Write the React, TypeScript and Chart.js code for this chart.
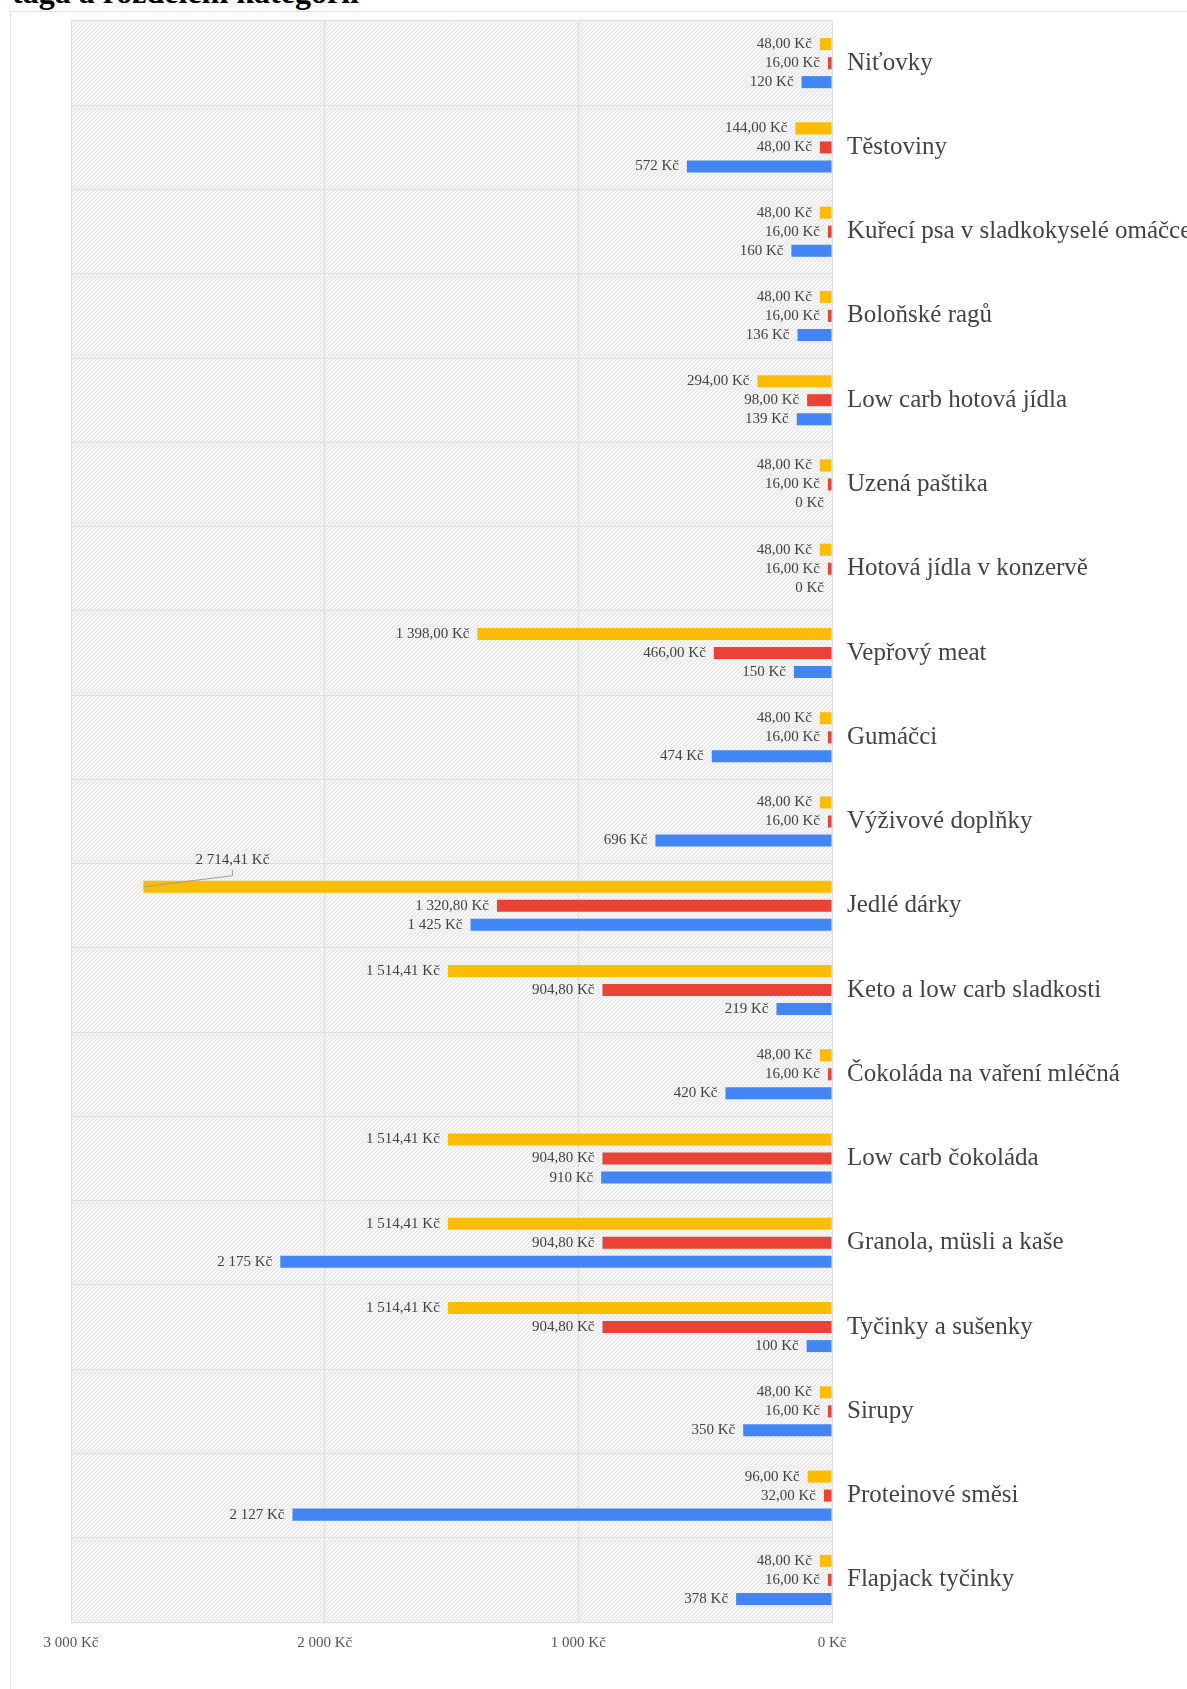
import React, { useEffect, useRef } from 'react';
import { Chart, registerables } from 'chart.js';

Chart.register(...registerables);

const categories = [
  'Niťovky',
  'Těstoviny',
  'Kuřecí psa v sladkokyselé omáčce',
  'Boloňské ragů',
  'Low carb hotová jídla',
  'Uzená paštika',
  'Hotová jídla v konzervě',
  'Vepřový meat',
  'Gumáčci',
  'Výživové doplňky',
  'Jedlé dárky',
  'Keto a low carb sladkosti',
  'Čokoláda na vaření mléčná',
  'Low carb čokoláda',
  'Granola, müsli a kaše',
  'Tyčinky a sušenky',
  'Sirupy',
  'Proteinové směsi',
  'Flapjack tyčinky',
];

const yellowValues = [48, 144, 48, 48, 294, 48, 48, 1398, 48, 48, 2714.41, 1514.41, 48, 1514.41, 1514.41, 1514.41, 48, 96, 48];
const redValues = [16, 48, 16, 16, 98, 16, 16, 466, 16, 16, 1320.8, 904.8, 16, 904.8, 904.8, 904.8, 16, 32, 16];
const blueValues = [120, 572, 160, 136, 139, 0, 0, 150, 474, 696, 1425, 219, 420, 910, 2175, 100, 350, 2127, 378];

const xTickMin = 0;
const xTickMax = 3000;
const xTickStep = 1000;

const FONT = '"Liberation Serif", "Times New Roman", serif';

function groupDigits(s: string): string {
  return s.replace(/\B(?=(\d{3})+(?!\d))/g, ' ');
}
function fmtDecimal(v: number): string {
  const [i, d] = v.toFixed(2).split('.');
  return groupDigits(i) + ',' + d + ' Kč';
}
function fmtInt(v: number): string {
  return groupDigits(Math.round(v).toString()) + ' Kč';
}

const decimalsBySeries = [true, true, false];

export default function App() {
  const ref = useRef<HTMLCanvasElement | null>(null);

  useEffect(() => {
    document.body.style.overflow = 'hidden';
    const canvas = ref.current;
    if (!canvas) return;

    const pc = document.createElement('canvas');
    pc.width = 4;
    pc.height = 4;
    const pctx = pc.getContext('2d')!;
    pctx.fillStyle = '#f5f5f5';
    pctx.fillRect(0, 0, 4, 4);
    pctx.fillStyle = '#e2e2e2';
    for (let k = 0; k < 4; k++) {
      pctx.fillRect(k, 3 - k, 1, 1);
    }

    const bgPlugin = {
      id: 'hatchBg',
      beforeDraw(chart: any) {
        const { ctx, chartArea: a } = chart;
        const pat = ctx.createPattern(pc, 'repeat');
        ctx.save();
        ctx.fillStyle = pat;
        ctx.fillRect(a.left, a.top, a.right - a.left, a.bottom - a.top);
        ctx.restore();
      },
    };

    const labelPlugin = {
      id: 'valueLabels',
      afterDatasetsDraw(chart: any) {
        const { ctx, chartArea: area } = chart;
        ctx.save();
        ctx.font = '15px ' + FONT;
        ctx.fillStyle = '#444';
        ctx.textBaseline = 'middle';
        chart.data.datasets.forEach((ds: any, di: number) => {
          const meta = chart.getDatasetMeta(di);
          meta.data.forEach((el: any, i: number) => {
            const v = ds.data[i] as number;
            const text = decimalsBySeries[di] ? fmtDecimal(v) : fmtInt(v);
            const w = ctx.measureText(text).width;
            const x = el.x;
            const y = el.y;
            if (x - 8 - w < area.left) {
              const ex = x + 89;
              ctx.strokeStyle = '#9e9e9e';
              ctx.lineWidth = 1;
              ctx.beginPath();
              ctx.moveTo(x, y);
              ctx.lineTo(ex, y - 11);
              ctx.lineTo(ex, y - 17);
              ctx.stroke();
              ctx.textAlign = 'center';
              ctx.fillText(text, ex, y - 27);
            } else {
              ctx.textAlign = 'right';
              ctx.fillText(text, x - 8, y);
            }
          });
        });
        ctx.restore();
      },
    };

    const chart = new Chart(canvas, {
      type: 'bar',
      data: {
        labels: categories,
        datasets: [
          { label: 'A', data: yellowValues, backgroundColor: '#fbbc04', categoryPercentage: 0.677, barPercentage: 0.632 },
          { label: 'B', data: redValues, backgroundColor: '#ea4335', categoryPercentage: 0.677, barPercentage: 0.632 },
          { label: 'C', data: blueValues, backgroundColor: '#4285f4', categoryPercentage: 0.677, barPercentage: 0.632 },
        ],
      },
      options: {
        indexAxis: 'y',
        responsive: false,
        animation: false,
        devicePixelRatio: 1,
        layout: { padding: { left: 59, top: 9, right: 0, bottom: 0 } },
        plugins: {
          legend: { display: false },
          tooltip: { enabled: false },
          title: { display: false },
        },
        scales: {
          x: {
            type: 'linear',
            reverse: true,
            min: xTickMin,
            max: xTickMax,
            position: 'bottom',
            grid: { color: '#dedede', drawTicks: false },
            border: { color: '#dedede' },
            ticks: {
              stepSize: xTickStep,
              padding: 12,
              color: '#555',
              font: { family: FONT, size: 15 },
              maxRotation: 0,
              callback: (v: any) => fmtInt(Number(v)),
            },
            afterFit: (s: any) => {
              s.height = 67;
              s.paddingLeft = 0;
              s.paddingRight = 0;
            },
          },
          y: {
            type: 'category',
            position: 'right',
            offset: true,
            grid: { color: '#dedede', drawTicks: false, offset: true },
            border: { color: '#dedede' },
            ticks: {
              padding: 15,
              color: '#444',
              font: { family: FONT, size: 25 },
              autoSkip: false,
            },
            afterFit: (s: any) => {
              s.width = 355;
              s.paddingTop = 0;
              s.paddingBottom = 0;
            },
          },
        },
      },
      plugins: [bgPlugin, labelPlugin],
    } as any);

    return () => {
      chart.destroy();
    };
  }, []);

  return (
    <div>
      <div
        style={{
          position: 'absolute',
          left: 12,
          top: -24,
          fontFamily: FONT,
          fontWeight: 'bold',
          fontSize: 32,
          lineHeight: '32px',
          color: '#000',
          whiteSpace: 'nowrap',
        }}
      >
        taga a rozdělení kategorií
      </div>
      <div
        style={{
          position: 'absolute',
          left: 10,
          top: 11,
          borderLeft: '1px solid #e3e3e3',
          borderTop: '1px solid #e3e3e3',
          width: 1176,
          height: 1677,
          overflow: 'hidden',
          background: '#fff',
        }}
      >
        <canvas ref={ref} width={1175} height={1677} style={{ display: 'block', marginLeft: 1 }} />
      </div>
    </div>
  );
}
